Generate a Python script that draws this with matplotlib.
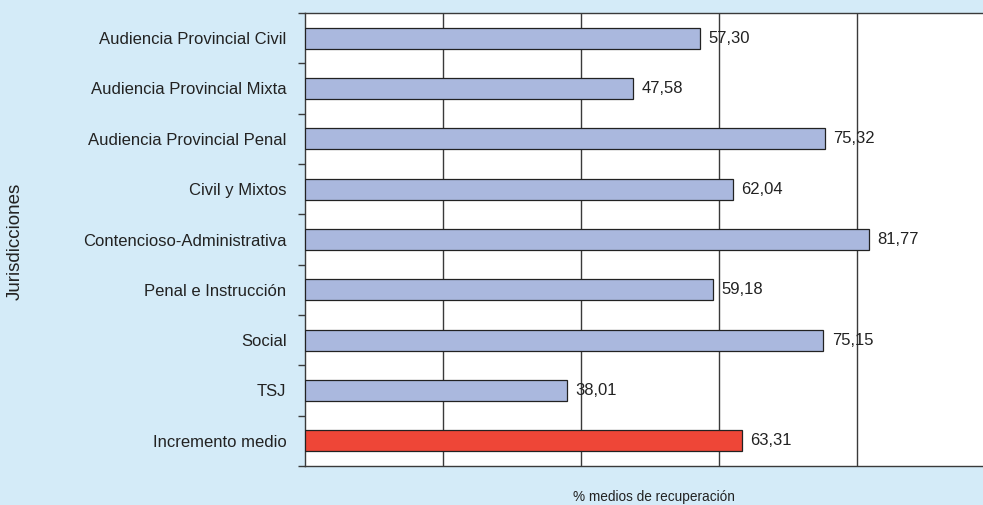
import matplotlib.pyplot as plt
import numpy as np

plt.rcParams['font.family'] = ['Liberation Sans', 'DejaVu Sans']

# data
categories = [
    'Audiencia Provincial Civil',
    'Audiencia Provincial Mixta',
    'Audiencia Provincial Penal',
    'Civil y Mixtos',
    'Contencioso-Administrativa',
    'Penal e Instrucción',
    'Social',
    'TSJ',
    'Incremento medio',
]
values = [57.30, 47.58, 75.32, 62.04, 81.77, 59.18, 75.15, 38.01, 63.31]

BG = '#D4EBF8'
BAR = '#AAB8DE'
RED = '#EE4637'
INK = '#222222'

fig = plt.figure(figsize=(9.83, 5.05), dpi=100)
fig.patch.set_facecolor(BG)

# axes spill past the right edge, as in the original
W, H = 983, 505
left, right, top, bottom = 304.5, 995.0, 13.0, 466.0
ax = fig.add_axes([left / W, 1 - bottom / H, (right - left) / W, (bottom - top) / H])
ax.set_facecolor('white')

y = np.arange(len(categories))
colors = [BAR] * (len(categories) - 1) + [RED]
ax.barh(y, values, height=0.42, color=colors, edgecolor=INK,
        linewidth=0.9, zorder=3)

for yi, v in zip(y, values):
    ax.text(v + 1.2, yi, f'{v:.2f}'.replace('.', ','), va='center', ha='left',
            fontsize=12, color=INK, zorder=4)

ax.set_xlim(0, 100)
ax.set_ylim(len(categories) - 0.5, -0.5)

ax.set_xticks([20, 40, 60, 80])
ax.set_xticklabels([])
ax.tick_params(axis='x', length=0)
ax.xaxis.grid(True, color='#3a3a3a', lw=1.0, zorder=1)
ax.set_axisbelow(True)

# category labels centred on bars, tick marks between categories
ax.set_yticks(y)
ax.set_yticklabels(categories, fontsize=12, color=INK)
ax.tick_params(axis='y', which='major', length=0, pad=13)
ax.set_yticks(np.arange(-0.5, len(categories)), minor=True)
ax.tick_params(axis='y', which='minor', length=5, width=1.0, color='#3a3a3a',
               direction='out')

for s in ['top', 'bottom', 'left']:
    ax.spines[s].set_color('#3a3a3a')
    ax.spines[s].set_linewidth(1.0)
ax.spines['right'].set_visible(False)

fig.text(654 / W, 1 - 497 / H, '% medios de recuperación', ha='center',
         va='center', fontsize=9.8, color=INK)
fig.text(15 / W, 1 - 241 / H, 'Jurisdicciones', ha='center', va='center',
         rotation=90, fontsize=13.5, color=INK)

fig.savefig('out.png', dpi=100, facecolor=BG)
